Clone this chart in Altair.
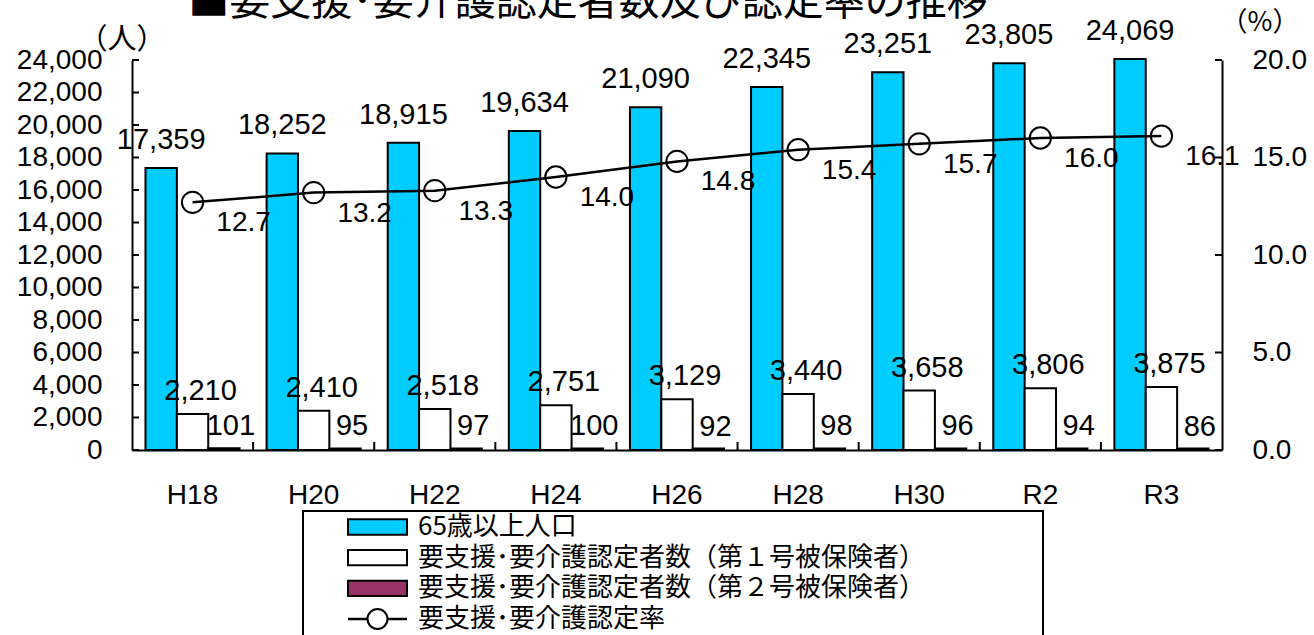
import altair as alt
import pandas as pd

# ---- data ----
years = ["H18", "H20", "H22", "H24", "H26", "H28", "H30", "R2", "R3"]
pop65 = [17359, 18252, 18915, 19634, 21090, 22345, 23251, 23805, 24069]
cert1 = [2210, 2410, 2518, 2751, 3129, 3440, 3658, 3806, 3875]
cert2 = [101, 95, 97, 100, 92, 98, 96, 94, 86]
rate = [12.7, 13.2, 13.3, 14.0, 14.8, 15.4, 15.7, 16.0, 16.1]

series_names = ["65歳以上人口",
                "要支援･要介護認定者数（第１号被保険者）",
                "要支援･要介護認定者数（第２号被保険者）"]
rate_name = "要支援･要介護認定率"
count_ticks = [0, 2000, 4000, 6000, 8000, 10000, 12000, 14000, 16000,
               18000, 20000, 22000, 24000]
rate_ticks = [0, 5, 10, 15, 20]
title_text = "■要支援･要介護認定者数及び認定率の推移"
unit_left = "（人）"
unit_right = "（%）"

# ---- styles ----
W, H = 1090, 390
colors = ["#00CCFF", "#FFFFFF", "#993366"]
LAT = "Liberation Sans"
CJK = "Noto Sans CJK JP"

bars_df = pd.DataFrame(
    [{"year": y, "series": s, "value": v}
     for i, y in enumerate(years)
     for s, v in zip(series_names, [pop65[i], cert1[i], cert2[i]])]
)
rate_df = pd.DataFrame({"year": years, "rate": rate})

xscale = alt.Scale(domain=years, paddingInner=0, paddingOuter=0)
xaxis = alt.Axis(title=None, labelFont=LAT, labelFontSize=28, labelColor="black",
                 labelPadding=31, ticks=False, domain=True, domainColor="black",
                 domainWidth=2, labelAngle=0, grid=False)
x_enc = alt.X("year:N", scale=xscale, axis=xaxis)

count_scale = alt.Scale(domain=[0, 24000], nice=False, zero=True)
rate_scale = alt.Scale(domain=[0, 20], nice=False, zero=True)

left_axis = alt.Axis(orient="left", values=count_ticks, format=",d", title=None,
                     labelFont=LAT, labelFontSize=28, labelColor="black",
                     labelPadding=30, ticks=False, domainColor="black",
                     domainWidth=2, grid=False, labelOverlap=False)
right_axis = alt.Axis(orient="right", values=rate_ticks, format=".1f", title=None,
                      labelFont=LAT, labelFontSize=28, labelColor="black",
                      labelPadding=30, ticks=False, domainColor="black",
                      domainWidth=2, grid=False, labelOverlap=False)

offset_enc = alt.XOffset("series:N",
                         scale=alt.Scale(domain=series_names, paddingInner=0,
                                         paddingOuter=0.43))
color_enc = alt.Color("series:N",
                      scale=alt.Scale(domain=series_names, range=colors),
                      legend=None)

bars = alt.Chart(bars_df).mark_bar(stroke="black", strokeWidth=2).encode(
    x=x_enc, xOffset=offset_enc,
    y=alt.Y("value:Q", scale=count_scale, axis=left_axis),
    color=color_enc,
)

bar_labels = []
for s, dx, dy in zip(series_names, [0, 8, 7], [-28, -23, -22]):
    bar_labels.append(
        alt.Chart(bars_df).transform_filter(alt.datum.series == s)
        .mark_text(dx=dx, dy=dy, baseline="middle", align="center",
                   font=LAT, fontSize=29, color="black")
        .encode(x=x_enc, xOffset=offset_enc,
                y=alt.Y("value:Q", scale=count_scale, axis=None),
                text=alt.Text("value:Q", format=",d"))
    )

points = alt.Chart(rate_df).mark_circle(
    size=452, color="white", opacity=1, stroke="black", strokeWidth=2
).encode(x=x_enc, y=alt.Y("rate:Q", scale=rate_scale, axis=None))

line = alt.Chart(rate_df).mark_line(color="black", strokeWidth=2.5).encode(
    x=x_enc, y=alt.Y("rate:Q", scale=rate_scale, axis=right_axis))

rate_labels = alt.Chart(rate_df).mark_text(
    dx=51, dy=21, baseline="middle", align="center", font=LAT, fontSize=28,
    color="black"
).encode(x=x_enc, y=alt.Y("rate:Q", scale=rate_scale, axis=None),
         text=alt.Text("rate:Q", format=".1f"))

# inward tick marks
left_ticks = alt.Chart(pd.DataFrame({"v": count_ticks})).mark_rule(
    color="black", strokeWidth=2).encode(
    y=alt.Y("v:Q", scale=count_scale, axis=None),
    x=alt.value(0), x2=alt.value(7))
right_ticks = alt.Chart(pd.DataFrame({"v": rate_ticks})).mark_rule(
    color="black", strokeWidth=2).encode(
    y=alt.Y("v:Q", scale=rate_scale, axis=None),
    x=alt.value(W - 7), x2=alt.value(W))
x_ticks = alt.Chart(pd.DataFrame({"year": years[1:]})).mark_rule(
    color="black", strokeWidth=2).encode(
    x=alt.X("year:N", scale=xscale, axis=xaxis, bandPosition=0),
    y=alt.value(H - 8), y2=alt.value(H))

# title and unit labels
title = alt.Chart(pd.DataFrame({"t": [title_text]})).mark_text(
    font=CJK, fontSize=41, color="black", align="center", baseline="alphabetic"
).encode(x=alt.value(456), y=alt.value(-45), text="t:N")
unit_l = alt.Chart(pd.DataFrame({"t": [unit_left]})).mark_text(
    font=CJK, fontSize=29, color="black", align="center", baseline="middle"
).encode(x=alt.value(-10), y=alt.value(-20), text="t:N")
unit_r = alt.Chart(pd.DataFrame({"t": [unit_right]})).mark_text(
    font=CJK, fontSize=27, color="black", align="center", baseline="middle"
).encode(x=alt.value(1128), y=alt.value(-37), text="t:N")

# legend (drawn)
legend_df = pd.DataFrame({"label": series_names + [rate_name],
                          "series": series_names + [rate_name],
                          "i": [0, 1, 2, 3]})
leg_scale = alt.Scale(domain=[0, 3], range=[467, 559])
leg_box = alt.Chart(pd.DataFrame({"a": [0]})).mark_rect(
    fill="white", stroke="black", strokeWidth=2).encode(
    x=alt.value(171), x2=alt.value(911), y=alt.value(451), y2=alt.value(640))
leg_rects = alt.Chart(legend_df).transform_filter("datum.i < 3").transform_calculate(
    y0="datum.i - 0.25", y1="datum.i + 0.25").mark_rect(
    stroke="black", strokeWidth=2).encode(
    x=alt.value(216), x2=alt.value(275),
    y=alt.Y("y0:Q", scale=leg_scale, axis=None), y2="y1:Q",
    color=color_enc)
leg_line = alt.Chart(legend_df).transform_filter("datum.i == 3").mark_rule(
    color="black", strokeWidth=2.5).encode(
    x=alt.value(216), x2=alt.value(275),
    y=alt.Y("i:Q", scale=leg_scale, axis=None))
leg_circle = alt.Chart(legend_df).transform_filter("datum.i == 3").mark_circle(
    size=400, color="white", opacity=1, stroke="black", strokeWidth=2).encode(
    x=alt.value(245.5), y=alt.Y("i:Q", scale=leg_scale, axis=None))
leg_text = alt.Chart(legend_df).mark_text(
    font=CJK, fontSize=26, color="black", align="left", baseline="middle"
).encode(x=alt.value(286), y=alt.Y("i:Q", scale=leg_scale, axis=None),
         text="label:N")

chart = alt.layer(
    bars, *bar_labels, points, line, rate_labels,
    left_ticks, right_ticks, x_ticks,
    title, unit_l, unit_r,
    leg_box, leg_rects, leg_line, leg_circle, leg_text,
).resolve_scale(y="independent").properties(
    width=W, height=H,
    padding={"left": 132, "top": 60, "right": 92, "bottom": 185},
    autosize=alt.AutoSizeParams(type="none"),
    background="white",
).configure_view(strokeWidth=0)

chart.save("out.html", embed_options={"renderer": "svg", "actions": False})
